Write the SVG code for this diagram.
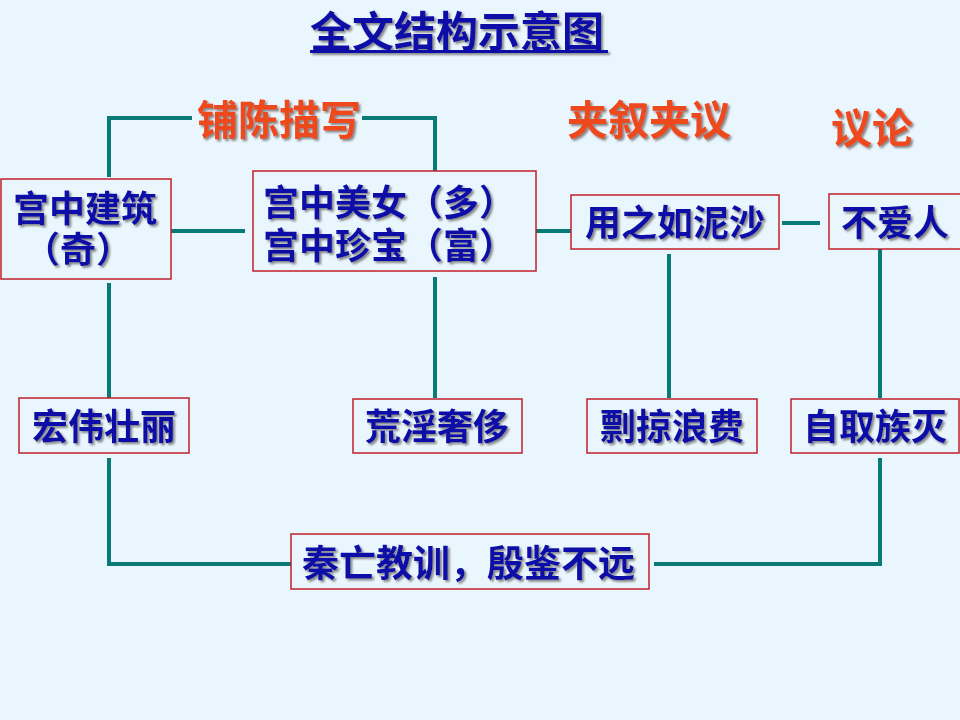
<svg xmlns="http://www.w3.org/2000/svg" width="960" height="720" viewBox="0 0 960 720">
<defs>
<filter id="sh" x="-20%" y="-50%" width="140%" height="200%">
<feDropShadow dx="2" dy="2" stdDeviation="0.8" flood-color="#7a7a7a" flood-opacity="0.9"/>
</filter>
<style>
.bg{fill:#EAF6FD}
.box{fill:#EAF6FD;stroke:#C0202A;stroke-width:1.5}
.t{font-family:"Noto Sans CJK SC","Noto Sans CJK TC",sans-serif;font-weight:bold;font-size:36px;fill:#0A0AA8;filter:url(#sh)}
.c{text-anchor:middle}
.lab{font-family:"Noto Sans CJK SC",sans-serif;font-weight:bold;font-size:41px;fill:#EE4A1E;filter:url(#sh)}
.title{font-family:"Noto Sans CJK SC",sans-serif;font-weight:bold;font-size:42px;fill:#0A0AA8}
.ln{fill:none;stroke:#0A7A76;stroke-width:4;stroke-linecap:butt;stroke-linejoin:miter}
</style>
</defs>
<rect class="bg" x="0" y="0" width="960" height="720"/>

<g id="title" filter="url(#sh)">
<text class="title" x="310" y="47">全文结构示意图</text>
<rect x="310" y="50" width="298" height="3" fill="#0A0AA8"/>
</g>

<g id="labels">
<text class="lab" x="197" y="135">铺陈描写</text>
<text class="lab" x="567" y="135">夹叙夹议</text>
<text class="lab" x="831" y="143">议论</text>
</g>

<g id="connectors">
<polyline class="ln" points="109,177 109,118 192,118"/>
<polyline class="ln" points="362,118 435,118 435,171"/>
<line class="ln" x1="171" y1="231" x2="245" y2="231"/>
<line class="ln" x1="533" y1="231" x2="571" y2="231"/>
<line class="ln" x1="782" y1="223" x2="820" y2="223"/>
<line class="ln" x1="109" y1="283" x2="109" y2="398"/>
<polyline class="ln" points="109,458 109,564 291,564"/>
<line class="ln" x1="435" y1="277" x2="435" y2="398"/>
<line class="ln" x1="669" y1="254" x2="669" y2="398"/>
<line class="ln" x1="880" y1="247" x2="880" y2="398"/>
<polyline class="ln" points="880,458 880,564 654,564"/>
</g>

<g id="n1">
<rect class="box" x="1" y="179" width="170" height="100"/>
<text class="t" x="13" y="222">宫中建筑<tspan x="24" y="263">（奇）</tspan></text>
</g>
<g id="n2">
<rect class="box" x="253" y="171" width="283" height="100"/>
<text class="t" x="263" y="216">宫中美女（多）<tspan x="263" y="259">宫中珍宝（富）</tspan></text>
</g>
<g id="n3">
<rect class="box" x="571" y="195" width="208" height="54"/>
<text class="t c" x="675" y="236">用之如泥沙</text>
</g>
<g id="n4">
<rect class="box" x="829" y="194" width="140" height="55"/>
<text class="t c" x="895" y="236">不爱人</text>
</g>
<g id="n5">
<rect class="box" x="19" y="398" width="170" height="55"/>
<text class="t c" x="104" y="440">宏伟壮丽</text>
</g>
<g id="n6">
<rect class="box" x="353" y="399" width="169" height="54"/>
<text class="t c" x="437" y="440">荒淫奢侈</text>
</g>
<g id="n7">
<rect class="box" x="587" y="399" width="170" height="54"/>
<text class="t c" x="672" y="440">剽掠浪费</text>
</g>
<g id="n8">
<rect class="box" x="791" y="399" width="168" height="54"/>
<text class="t c" x="875" y="440">自取族灭</text>
</g>
<g id="n9">
<rect class="box" x="291" y="534" width="358" height="55"/>
<text class="t" x="302" y="577" style="font-size:37px">秦亡教训，殷鉴不远</text>
</g>
</svg>
